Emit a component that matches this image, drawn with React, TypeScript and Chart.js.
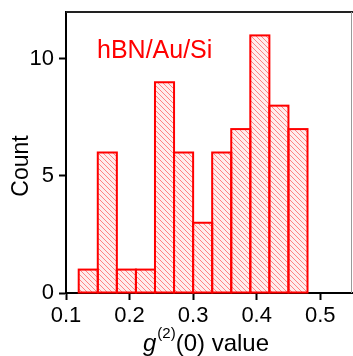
import React, { useEffect, useRef } from "react";
import { Chart, registerables } from "chart.js";

Chart.register(...registerables);

const binCenters = [0.135, 0.165, 0.195, 0.225, 0.255, 0.285, 0.315, 0.345, 0.375, 0.405, 0.435, 0.465];
const counts = [1, 6, 1, 1, 9, 6, 3, 6, 7, 11, 8, 7];
const xTicks = [0.1, 0.2, 0.3, 0.4, 0.5];
const yTicks = [0, 5, 10];
const sampleLabel = "hBN/Au/Si";

const FONT = "'Liberation Sans', Arial, sans-serif";

function makeHatch(): CanvasPattern | string {
  const n = 5;
  const c = document.createElement("canvas");
  c.width = n;
  c.height = n;
  const g = c.getContext("2d");
  if (!g) return "rgba(255,0,0,0.2)";
  g.fillStyle = "rgba(255,0,0,0.07)";
  g.fillRect(0, 0, n, n);
  g.strokeStyle = "rgba(255,0,0,0.45)";
  g.lineWidth = 1;
  g.beginPath();
  g.moveTo(-1, -1);
  g.lineTo(n + 1, n + 1);
  g.moveTo(-1, n - 1);
  g.lineTo(1, n + 1);
  g.moveTo(n - 1, -1);
  g.lineTo(n + 1, 1);
  g.stroke();
  const p = g.createPattern(c, "repeat");
  return p || "rgba(255,0,0,0.2)";
}

const decorPlugin = {
  id: "decor",
  afterDatasetsDraw(chart: any) {
    const ctx = chart.ctx;
    const meta = chart.getDatasetMeta(0);
    ctx.save();
    ctx.strokeStyle = "#ff0000";
    ctx.lineWidth = 2;
    meta.data.forEach((el: any) => {
      const p = el.getProps(["x", "y", "base", "width"], true);
      const l = p.x - p.width / 2;
      ctx.strokeRect(l, p.y, p.width, p.base - p.y);
    });
    ctx.restore();
  },
  afterDraw(chart: any) {
    const ctx = chart.ctx;
    const a = chart.chartArea;
    ctx.save();
    // frame top and right
    ctx.strokeStyle = "#222";
    ctx.lineWidth = 2;
    ctx.beginPath();
    ctx.moveTo(a.left, a.top);
    ctx.lineTo(a.right + 1, a.top);
    ctx.stroke();
    ctx.strokeStyle = "#9a9a9a";
    ctx.lineWidth = 1;
    ctx.beginPath();
    ctx.moveTo(a.right - 0.5, a.top);
    ctx.lineTo(a.right - 0.5, a.bottom);
    ctx.stroke();

    // sample label
    ctx.fillStyle = "#ff0000";
    ctx.font = `25px ${FONT}`;
    ctx.textBaseline = "alphabetic";
    ctx.textAlign = "left";
    ctx.fillText(sampleLabel, 97, 58);

    // y title
    ctx.fillStyle = "#000";
    ctx.font = `23px ${FONT}`;
    ctx.save();
    ctx.translate(28, 166);
    ctx.rotate(-Math.PI / 2);
    ctx.textAlign = "center";
    ctx.fillText("Count", 0, 0);
    ctx.restore();

    // x title: g^(2)(0) value
    let x = 143;
    const base = 351;
    ctx.textAlign = "left";
    ctx.font = `italic 24px ${FONT}`;
    ctx.fillText("g", x, base);
    x += ctx.measureText("g").width + 1;
    ctx.font = `15px ${FONT}`;
    ctx.fillText("(2)", x, base - 13);
    x += ctx.measureText("(2)").width;
    ctx.font = `24px ${FONT}`;
    ctx.fillText("(0) value", x, base);
    ctx.restore();
  },
};

export default function App() {
  const ref = useRef<HTMLCanvasElement | null>(null);
  useEffect(() => {
    document.body.style.margin = "0";
    if (!ref.current) return;
    const hatch = makeHatch();
    const chart = new Chart(ref.current, {
      type: "bar",
      data: {
        datasets: [
          {
            data: binCenters.map((c, i) => ({ x: c, y: counts[i] })),
            backgroundColor: hatch as any,
            borderWidth: 0,
            barPercentage: 1,
            categoryPercentage: 1,
          },
        ],
      },
      options: {
        animation: false,
        responsive: false,
        maintainAspectRatio: false,
        layout: { padding: { top: 12, right: 1, left: 0, bottom: 0 } },
        plugins: { legend: { display: false }, tooltip: { enabled: false } },
        scales: {
          x: {
            type: "linear",
            min: 0.1,
            max: 0.55,
            offset: false,
            afterBuildTicks: (s: any) => {
              s.ticks = xTicks.map((v) => ({ value: v }));
            },
            afterFit: (s: any) => {
              s.height = 63;
              s.paddingLeft = 0;
              s.paddingRight = 0;
            },
            ticks: {
              color: "#000",
              font: { size: 22, family: FONT },
              padding: 3,
              maxRotation: 0,
              autoSkip: false,
              includeBounds: false,
              stepSize: 0.1,
              callback: (v: any) => Number(v).toFixed(1),
            },
            grid: {
              display: true,
              offset: false,
              drawOnChartArea: false,
              drawTicks: true,
              tickLength: 7,
              tickWidth: 2,
              tickColor: "#000",
            },
            border: { display: true, color: "#000", width: 2 },
          },
          y: {
            type: "linear",
            min: 0,
            max: 12,
            afterBuildTicks: (s: any) => {
              s.ticks = yTicks.map((v) => ({ value: v }));
            },
            afterFit: (s: any) => {
              s.width = 66;
              s.paddingTop = 0;
              s.paddingBottom = 0;
            },
            ticks: {
              color: "#000",
              font: { size: 22, family: FONT },
              padding: 5,
              autoSkip: false,
              includeBounds: false,
            },
            grid: {
              display: true,
              offset: false,
              drawOnChartArea: false,
              drawTicks: true,
              tickLength: 7,
              tickWidth: 2,
              tickColor: "#000",
            },
            border: { display: true, color: "#000", width: 2 },
          },
        },
      },
      plugins: [decorPlugin],
    });
    return () => chart.destroy();
  }, []);
  return (
    <div style={{ position: "fixed", left: 0, top: 0, width: 353, height: 356, background: "#fff" }}>
      <canvas ref={ref} width={353} height={356} style={{ width: 353, height: 356 }} />
    </div>
  );
}
